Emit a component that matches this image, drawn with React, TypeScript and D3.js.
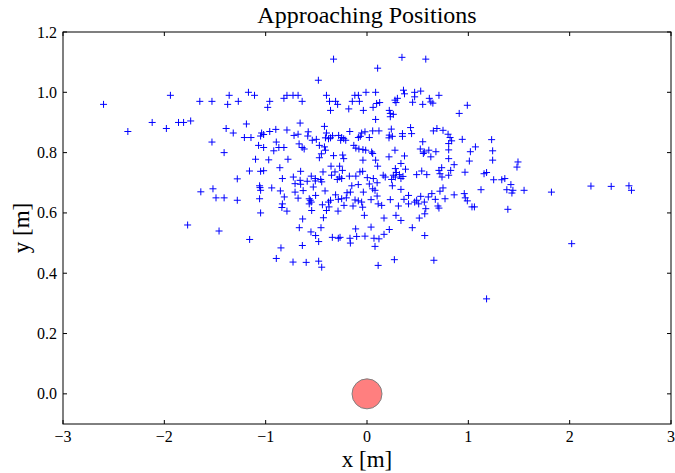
import React from "react";
import * as d3 from "d3";

// Approaching positions [x (m), y (m)]
const positions: [number, number][] = [
  [-2.60,0.96],[-1.94,0.99],[-1.65,0.97],[-1.53,0.97],[-1.375,0.96],[-1.36,0.99],[-2.36,0.87],[-2.12,0.90],[-1.98,0.88],[-1.86,0.90],[-1.81,0.90],[-1.74,0.905],[-1.39,0.88],[-1.53,0.835],[-1.41,0.80],
  [-1.64,0.67],[-1.52,0.68],[-1.49,0.65],[-1.41,0.65],[-1.77,0.56],[-1.46,0.54],
  [-0.33,1.11],[-0.48,1.04],[-1.17,1.00],[-1.11,0.99],[-1.27,0.97],[-0.96,0.97],[-0.98,0.95],[-0.82,0.98],[-0.79,0.99],[-0.73,0.99],[-0.68,0.99],[-0.64,0.97],[-0.40,0.99],[-0.37,0.97],[-0.31,0.97],[-0.29,0.96],[-0.36,0.94],[-0.18,0.945],[-0.12,0.99],[-0.085,0.99],[-0.145,0.97],[-0.075,0.97],
  [-1.32,0.865],[-1.19,0.895],[-1.21,0.85],[-1.145,0.85],[-1.04,0.865],[-1.05,0.855],[-1.02,0.86],[-0.96,0.87],[-0.90,0.877],[-0.79,0.875],[-0.895,0.835],[-0.87,0.817],[-0.82,0.817],[-0.92,0.806],[-1.07,0.824],[-1.02,0.817],[-1.10,0.778],[-0.97,0.776],[-0.78,0.778],[-0.86,0.75],[-0.66,0.898],[-0.72,0.857],[-0.68,0.861],[-0.67,0.829],[-0.64,0.817],[-0.62,0.812],[-0.58,0.869],[-0.585,0.855],[-0.54,0.841],[-0.50,0.844],[-0.47,0.824],[-0.42,0.887],[-0.40,0.865],[-0.41,0.849],[-0.38,0.846],[-0.36,0.849],[-0.34,0.856],[-0.28,0.857],[-0.25,0.85],[-0.26,0.841],[-0.23,0.846],[-0.17,0.87],[-0.21,0.841],[-0.085,0.85],[-0.066,0.854],[-0.053,0.865],[-0.13,0.824],[-0.11,0.815],[-0.08,0.812],[-0.42,0.819],[-0.41,0.808],[-0.45,0.796],[-0.47,0.783],[-0.33,0.79],[-0.24,0.792],[-0.23,0.78],[-0.355,0.755],[-0.27,0.755],
  [0.345,1.116],[0.58,1.11],[0.105,1.08],[-0.01,1.00],[0.085,1.00],[-0.036,0.94],[0.06,0.95],[0.095,0.963],[0.125,0.966],[0.276,0.974],[0.286,0.966],[0.30,0.98],[0.36,1.007],[0.37,0.995],[0.45,0.967],[0.47,1.00],[0.47,0.985],[0.53,1.004],[0.55,0.96],[0.615,0.98],[0.63,0.968],[0.65,0.964],[0.71,0.99],[0.22,0.94],[0.23,0.93],[0.26,0.927],[0.23,0.919],[0.085,0.91],[0.91,0.93],[0.99,0.957],
  [-0.02,0.869],[0.056,0.872],[0.118,0.872],[0.023,0.85],[0.24,0.878],[0.22,0.858],[0.217,0.849],[0.25,0.854],[0.35,0.863],[0.35,0.854],[0.43,0.883],[0.44,0.863],[0.655,0.872],[0.69,0.88],[0.75,0.874],[0.80,0.861],[0.82,0.85],[0.835,0.839],[0.806,0.83],[0.55,0.836],[0.94,0.844],[1.23,0.843],[1.07,0.819],[1.02,0.803],[1.24,0.806],[1.24,0.775],[1.01,0.772],
  [-0.04,0.81],[-0.013,0.808],[0.046,0.802],[0.056,0.797],[0.276,0.808],[0.217,0.786],[0.37,0.789],[0.526,0.812],[0.566,0.802],[0.556,0.797],[0.61,0.808],[0.63,0.786],[0.68,0.803],[0.806,0.809],[0.806,0.78],[0.86,0.76],[0.335,0.764],[0.28,0.747],[0.085,0.775],[-0.04,0.775],[0.105,0.755],[0.737,0.75],
  [1.49,0.769],[1.48,0.752],
  [1.33,0.71],[1.36,0.714],[1.42,0.694],[1.38,0.677],[1.44,0.675],[1.43,0.666],[1.55,0.675],[1.82,0.669],[2.21,0.689],[2.41,0.688],[2.585,0.69],[2.61,0.675],[1.39,0.612],[2.02,0.498],
  [-0.07,0.736],[-0.043,0.738],[0.003,0.717],[0.023,0.696],[0.0625,0.714],[0.16,0.725],[0.18,0.719],[0.10,0.70],[0.056,0.68],[-0.036,0.669],[0.079,0.675],[0.243,0.711],[0.26,0.725],[0.29,0.734],[0.28,0.719],[0.32,0.727],[0.335,0.714],[0.355,0.721],[0.38,0.745],[0.25,0.69],[0.49,0.727],[0.54,0.739],[0.59,0.727],[0.71,0.741],[0.72,0.73],[0.74,0.719],[0.806,0.725],[0.826,0.741],[0.967,0.735],[1.155,0.73],[1.18,0.734],[1.25,0.71],
  [0.10,0.656],[0.04,0.644],[-0.053,0.636],[-0.043,0.619],[0.11,0.63],[0.145,0.625],[0.23,0.644],[0.335,0.678],[0.365,0.645],[0.41,0.658],[0.41,0.63],[0.31,0.623],[0.49,0.642],[0.51,0.63],[0.47,0.636],[0.53,0.655],[0.566,0.636],[0.605,0.653],[0.64,0.664],[0.674,0.645],[0.72,0.672],[0.75,0.683],[0.70,0.623],[0.71,0.616],[0.77,0.647],[0.86,0.66],[0.96,0.664],[0.97,0.65],[0.99,0.64],[1.036,0.62],[1.06,0.62],[1.125,0.677],
  [0.58,0.614],[0.57,0.597],[0.516,0.583],[-0.026,0.592],[0.168,0.583],[0.286,0.592],[0.335,0.575],[0.447,0.551],[0.22,0.545],[0.168,0.529],[0.04,0.553],[-0.02,0.523],[0.069,0.516],[0.118,0.514],[0.079,0.489],[0.57,0.525],[0.27,0.445],[0.11,0.426],[0.66,0.443],[1.18,0.315],
  [-1.16,0.739],[-1.05,0.738],[-1.02,0.74],[-1.28,0.713],[-1.28,0.642],[-1.06,0.69],[-1.056,0.684],[-1.05,0.675],[-1.06,0.647],[-1.05,0.60],[-0.94,0.683],[-0.835,0.714],[-0.855,0.673],[-0.816,0.653],[-0.835,0.63],[-0.84,0.618],[-0.79,0.606],[-0.727,0.719],[-0.71,0.697],[-0.655,0.738],[-0.66,0.708],[-0.655,0.695],[-0.63,0.674],[-0.71,0.669],[-0.68,0.649],[-0.59,0.705],[-0.57,0.647],[-0.56,0.642],[-0.57,0.63],[-0.55,0.636],[-0.546,0.608],[-0.53,0.686],[-0.55,0.722],[-0.51,0.714],[-0.51,0.706],[-0.457,0.711],[-0.447,0.703],[-0.434,0.736],[-0.507,0.658],[-0.414,0.673],[-0.35,0.725],[-0.316,0.736],[-0.273,0.719],[-0.293,0.711],[-0.243,0.741],[-0.25,0.714],[-0.174,0.722],[-0.15,0.69],[-0.11,0.722],[-0.086,0.694],
  [-0.36,0.642],[-0.38,0.636],[-0.375,0.62],[-0.40,0.608],[-0.43,0.584],[-0.44,0.627],[-0.31,0.66],[-0.283,0.645],[-0.25,0.647],[-0.227,0.625],[-0.204,0.65],[-0.197,0.667],[-0.164,0.669],[-0.138,0.623],[-0.118,0.643],[-0.086,0.64],[-0.286,0.606],[-0.635,0.58],[-0.668,0.551],[-0.454,0.551],[-0.553,0.537],[-0.507,0.525],[-0.477,0.505],[-0.342,0.519],[-0.283,0.516],[-0.266,0.519],[-0.168,0.516],[-0.164,0.50],[-0.112,0.547],[-0.102,0.522],[-1.158,0.512],[-0.849,0.484],[-0.638,0.492],[-0.895,0.449],[-0.73,0.437],[-0.60,0.436],[-0.477,0.44],[-0.447,0.42],
];

// The obstacle / robot at the origin
const obstacle: [number, number][] = [[0, 0]];

const xDomain: [number, number] = [-3, 3];
const yDomain: [number, number] = [-0.1, 1.2];
const xTicks = [-3, -2, -1, 0, 1, 2, 3];
const yTicks = [0.0, 0.2, 0.4, 0.6, 0.8, 1.0, 1.2];

const titleText = "Approaching Positions";
const xLabelText = "x [m]";
const yLabelText = "y [m]";

const FONT = "'Liberation Serif', 'DejaVu Serif', serif";

export default function App() {
  const W = 675;
  const H = 473;
  const left = 63, right = 671, top = 32, bottom = 424;
  const x = d3.scaleLinear().domain(xDomain).range([left, right]);
  const y = d3.scaleLinear().domain(yDomain).range([bottom, top]);
  const fmtX = (v: number) => (v < 0 ? "\u2212" + Math.abs(v) : String(v));
  const fmtY = d3.format(".1f");
  const tick = 4;
  const arm = 3.5;

  return (
    <svg
      width={W}
      height={H}
      style={{ position: "absolute", left: 0, top: 0, background: "#fff" }}
      fontFamily={FONT}
    >
      <rect x={0} y={0} width={W} height={H} fill="#fff" />
      {/* points */}
      <g stroke="#0000ff" strokeWidth={1} fill="none">
        {positions.map(([px, py], i) => {
          const cx = x(px);
          const cy = y(py);
          return (
            <path
              key={i}
              d={`M${cx - arm},${cy}H${cx + arm}M${cx},${cy - arm}V${cy + arm}`}
            />
          );
        })}
      </g>
      {/* obstacle */}
      {obstacle.map(([ox, oy], i) => (
        <circle key={i} cx={x(ox)} cy={y(oy)} r={15} fill="#ff7f7f" stroke="#808080" strokeWidth={1} />
      ))}
      {/* frame */}
      <rect x={left} y={top} width={right - left} height={bottom - top} fill="none" stroke="#000" strokeWidth={1} />
      {/* x ticks */}
      {xTicks.map((t) => (
        <g key={"x" + t}>
          <line x1={x(t)} x2={x(t)} y1={bottom} y2={bottom - tick} stroke="#000" />
          <line x1={x(t)} x2={x(t)} y1={top} y2={top + tick} stroke="#000" />
          <text x={x(t)} y={442} fontSize={16} textAnchor="middle">{fmtX(t)}</text>
        </g>
      ))}
      {/* y ticks */}
      {yTicks.map((t) => (
        <g key={"y" + t}>
          <line x1={left} x2={left + tick} y1={y(t)} y2={y(t)} stroke="#000" />
          <line x1={right} x2={right - tick} y1={y(t)} y2={y(t)} stroke="#000" />
          <text x={57} y={y(t) + 5.5} fontSize={16} textAnchor="end">{fmtY(t)}</text>
        </g>
      ))}
      <text x={(left + right) / 2} y={23} fontSize={24} textAnchor="middle">{titleText}</text>
      <text x={(left + right) / 2} y={467} fontSize={23} textAnchor="middle">{xLabelText}</text>
      <text transform={`translate(29,${(top + bottom) / 2}) rotate(-90)`} fontSize={23} textAnchor="middle">{yLabelText}</text>
    </svg>
  );
}
